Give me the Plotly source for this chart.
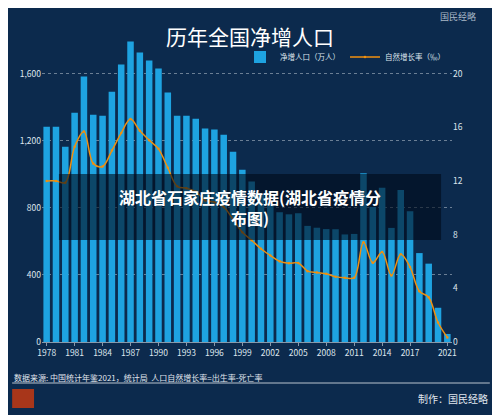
import plotly.graph_objects as go

years = list(range(1978, 2022))
net_increase = [1283, 1283, 1164, 1367, 1582, 1355, 1349, 1492, 1654, 1791, 1725, 1678, 1630, 1487,
                1349, 1349, 1331, 1272, 1266, 1236, 1134, 1027, 957, 884, 826, 774, 761, 768, 692, 681,
                673, 672, 641, 644, 1006, 804, 920, 680, 906, 779, 530, 467, 204, 48]
growth_rate = [12.0, 12.0, 11.87, 14.55, 15.68, 13.29, 13.08, 14.26, 15.57, 16.61, 15.73, 15.04, 14.39, 12.98,
               11.60, 11.45, 11.21, 10.55, 10.42, 10.06, 9.14, 8.18, 7.58, 6.95, 6.45, 6.01, 5.87, 5.89, 5.28, 5.17,
               5.08, 4.87, 4.79, 4.79, 7.43, 5.90, 6.71, 4.96, 6.53, 5.58, 3.78, 3.34, 1.45, 0.34]
tick_years = [1978, 1981, 1984, 1987, 1990, 1993, 1996, 1999, 2002, 2005, 2008, 2011, 2014, 2017, 2021]
tick_left = [0, 400, 800, 1200, 1600]
tick_right = [0, 4, 8, 12, 16, 20]

F = "Noto Sans CJK SC"
BG = "#0c2a4d"
def px(x): return (x - 40) / 412
def py(y): return (342 - y) / 302

fig = go.Figure()
fig.add_bar(x=years, y=net_increase, name="净增人口（万人）", marker=dict(color="#1ea3e1", line_width=0), width=0.7)
fig.add_scatter(x=years, y=growth_rate, yaxis="y2", name="自然增长率（‰）", mode="lines+markers",
                line=dict(color="#f0900f", width=1.5, shape="spline"), marker=dict(size=2.5, color="#f0900f"))
fig.update_layout(
    width=500, height=415, paper_bgcolor=BG, plot_bgcolor=BG,
    margin=dict(l=32, r=56, t=32, b=81), bargap=0.3,
    font=dict(family=F, color="#dfe6ee", size=9),
    xaxis=dict(range=[1977.5, 2021.5], tickvals=tick_years, ticks="outside", ticklen=3, tickcolor="#8899aa",
               showline=True, linecolor="#8899aa", showgrid=False, tickfont=dict(size=8.5)),
    yaxis=dict(range=[0, 1800], tickvals=tick_left, tickformat=",", showgrid=True, gridcolor="#6b7f95",
               griddash="dot", zeroline=False, tickfont=dict(size=8.5)),
    yaxis2=dict(range=[0, 22.5], tickvals=tick_right, overlaying="y", side="right", showgrid=False,
                zeroline=False, tickfont=dict(size=8.5)),
    legend=dict(orientation="h", x=px(450), xanchor="right", y=py(57), yanchor="middle",
                font=dict(size=7.5), bgcolor="rgba(0,0,0,0)"),
    showlegend=True,
)
fig.add_annotation(text="历年全国净增人口", xref="paper", yref="paper", x=px(249), y=py(19),
                   showarrow=False, font=dict(size=21, color="white", family=F))
fig.add_shape(type="rect", xref="paper", yref="paper", x0=px(57), x1=px(441),
              y0=py(240), y1=py(174), fillcolor="rgba(0,10,25,0.6)", line_width=0)
fig.add_annotation(text="<b>湖北省石家庄疫情数据(湖北省疫情分<br>布图)</b>", xref="paper", yref="paper",
                   x=px(249), y=py(207), showarrow=False, align="center",
                   font=dict(size=16, color="white", family=F))
fig.add_annotation(text="数据来源: 中国统计年鉴2021，统计局  人口自然增长率=出生率-死亡率", xref="paper", yref="paper",
                   x=px(10), y=py(377), xanchor="left", yanchor="middle", showarrow=False,
                   font=dict(size=8, color="#e0e6ee"))
fig.add_shape(type="line", xref="paper", yref="paper", x0=px(10), x1=px(490), y0=py(383), y1=py(383),
              line=dict(color="#b9c3cf", width=1))
fig.add_annotation(text="制作：国民经略", xref="paper", yref="paper", x=px(490), y=py(398),
                   xanchor="right", yanchor="middle", showarrow=False, font=dict(size=10, color="#e0e6ee"))
fig.add_shape(type="rect", xref="paper", yref="paper", x0=px(10), x1=px(32),
              y0=py(408), y1=py(389), fillcolor="#a8361a", line_width=0)
fig.add_annotation(text="国民经略", xref="paper", yref="paper", x=px(478), y=py(16), xanchor="right",
                   yanchor="middle", showarrow=False, font=dict(size=9, color="#aab8c8", family=F))
fig.write_html("out.html")
